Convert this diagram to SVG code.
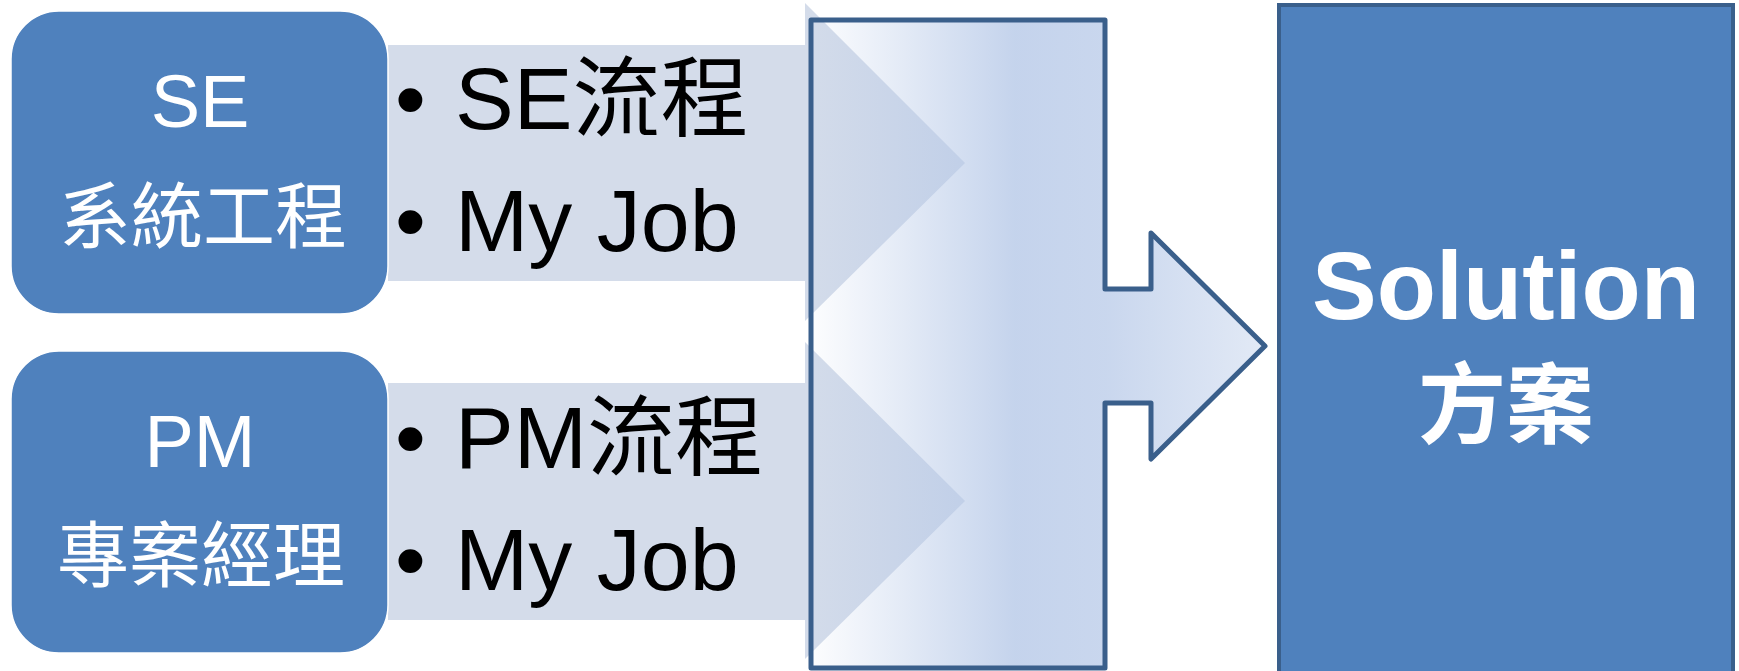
<svg xmlns="http://www.w3.org/2000/svg" width="1739" height="671" viewBox="0 0 1739 671">
<style>
.node{fill:#4f81bd;stroke:#ffffff;stroke-width:1.5}
.band{fill:#d4dcea}
.wt{fill:#ffffff;font-family:"Liberation Sans","Noto Sans CJK TC",sans-serif;text-anchor:middle}
.bt{fill:#000000;font-family:"Liberation Sans","Noto Sans CJK TC",sans-serif;font-size:88px}
.cjk{font-family:"Noto Sans CJK TC",sans-serif}
</style>
<defs>
<linearGradient id="mergeGrad" gradientUnits="userSpaceOnUse" x1="811" y1="0" x2="1265" y2="0">
<stop offset="0" stop-color="#b4c7e7" stop-opacity="0.03"/>
<stop offset="0.45" stop-color="#b4c7e7" stop-opacity="0.78"/>
<stop offset="0.65" stop-color="#b4c7e7" stop-opacity="0.72"/>
<stop offset="1" stop-color="#b4c7e7" stop-opacity="0.38"/>
</linearGradient>
</defs>
<rect width="1739" height="671" fill="#ffffff"/>
<g id="band-se">
<rect class="band" x="388" y="45" width="418" height="236"/>
<polygon class="band" points="805,3 965,163 805,321"/>
<text class="bt" x="395" y="129">•</text>
<text class="bt" x="455" y="129">SE流程</text>
<text class="bt" x="395" y="251">•</text>
<text class="bt" x="455" y="251">My Job</text>
</g>
<g id="band-pm">
<rect class="band" x="388" y="383" width="418" height="237"/>
<polygon class="band" points="805,342 965,501 805,659"/>
<text class="bt" x="395" y="468">•</text>
<text class="bt" x="455" y="468">PM流程</text>
<text class="bt" x="395" y="590">•</text>
<text class="bt" x="455" y="590">My Job</text>
</g>
<g id="node-se">
<rect class="node" x="11" y="11" width="377" height="303" rx="48" ry="48"/>
<text class="wt" x="200" y="127" font-size="74">SE</text>
<text class="wt cjk" x="203" y="242" font-size="72">系統工程</text>
</g>
<g id="node-pm">
<rect class="node" x="11" y="351" width="377" height="302" rx="48" ry="48"/>
<text class="wt" x="200" y="467" font-size="74">PM</text>
<text class="wt cjk" x="201" y="581" font-size="72">專案經理</text>
</g>
<g id="connectors">
<path id="merge-arrow" d="M811,20 H1105 V289 H1151 V233 L1265,346 L1151,459 V403 H1105 V668 H811 Z" fill="url(#mergeGrad)" stroke="#3a5f8b" stroke-width="5" stroke-linejoin="round"/>
</g>
<g id="node-solution">
<rect x="1279" y="5" width="454" height="700" fill="#4f81bd" stroke="#3a5f8b" stroke-width="4"/>
<text class="wt" x="1506" y="319" font-size="97" font-weight="bold">Solution</text>
<text class="wt cjk" x="1506" y="436" font-size="88" font-weight="bold">方案</text>
</g>
</svg>
